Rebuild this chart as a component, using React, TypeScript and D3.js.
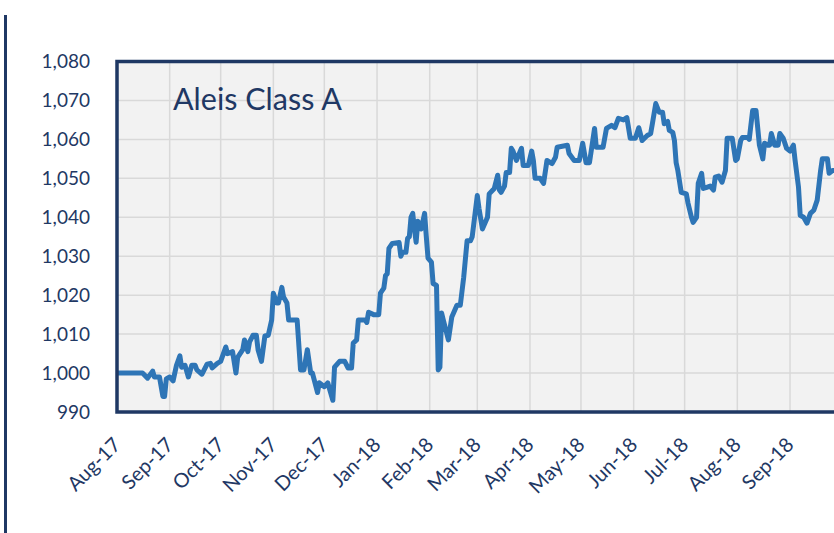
import React, { useEffect, useRef } from "react";
import * as d3 from "d3";

const title = "Aleis Class A";

const dates: string[] = [
  "2017-08-01","2017-08-16","2017-08-19","2017-08-22","2017-08-23","2017-08-26","2017-08-28","2017-08-29","2017-08-30",
  "2017-09-01","2017-09-03","2017-09-05","2017-09-07","2017-09-08","2017-09-10","2017-09-12","2017-09-14","2017-09-16","2017-09-17","2017-09-20","2017-09-23","2017-09-25","2017-09-26","2017-09-29",
  "2017-10-01","2017-10-04","2017-10-05","2017-10-08","2017-10-10","2017-10-11","2017-10-14","2017-10-15","2017-10-17","2017-10-18","2017-10-20","2017-10-22","2017-10-23","2017-10-25","2017-10-27","2017-10-29","2017-10-31",
  "2017-11-01","2017-11-03","2017-11-04","2017-11-06","2017-11-07","2017-11-09","2017-11-10","2017-11-15","2017-11-17","2017-11-19","2017-11-21","2017-11-23","2017-11-24","2017-11-27","2017-11-28",
  "2017-12-01","2017-12-03","2017-12-06","2017-12-07","2017-12-10","2017-12-13","2017-12-15","2017-12-17","2017-12-18","2017-12-20","2017-12-21","2017-12-25","2017-12-26","2017-12-27","2017-12-30",
  "2018-01-02","2018-01-03","2018-01-05","2018-01-06","2018-01-07","2018-01-08","2018-01-10","2018-01-14","2018-01-15","2018-01-16","2018-01-18","2018-01-19","2018-01-20","2018-01-21","2018-01-22","2018-01-23","2018-01-24","2018-01-25","2018-01-27","2018-01-29","2018-01-30","2018-01-31",
  "2018-02-02","2018-02-03","2018-02-05","2018-02-06","2018-02-07","2018-02-08","2018-02-09","2018-02-12","2018-02-14","2018-02-17","2018-02-19","2018-02-21","2018-02-23","2018-02-25","2018-02-26",
  "2018-03-01","2018-03-02","2018-03-04","2018-03-07","2018-03-08","2018-03-11","2018-03-13","2018-03-14","2018-03-15","2018-03-17","2018-03-18","2018-03-20","2018-03-21","2018-03-22","2018-03-24","2018-03-27","2018-03-28","2018-03-31",
  "2018-04-02","2018-04-03","2018-04-04","2018-04-07","2018-04-09","2018-04-11","2018-04-14","2018-04-16","2018-04-17","2018-04-23","2018-04-24","2018-04-27","2018-04-30",
  "2018-05-02","2018-05-04","2018-05-06","2018-05-09","2018-05-10","2018-05-14","2018-05-16","2018-05-19","2018-05-21","2018-05-23","2018-05-26","2018-05-28","2018-05-30",
  "2018-06-02","2018-06-04","2018-06-06","2018-06-09","2018-06-11","2018-06-12","2018-06-14","2018-06-16","2018-06-18","2018-06-19","2018-06-21","2018-06-22","2018-06-24","2018-06-25","2018-06-26","2018-06-27","2018-06-29",
  "2018-07-02","2018-07-03","2018-07-05","2018-07-06","2018-07-08","2018-07-09","2018-07-11","2018-07-12","2018-07-14","2018-07-16","2018-07-18","2018-07-19","2018-07-21","2018-07-23","2018-07-25","2018-07-26","2018-07-29","2018-07-31",
  "2018-08-01","2018-08-03","2018-08-04","2018-08-07","2018-08-08","2018-08-10","2018-08-12","2018-08-14","2018-08-16","2018-08-17","2018-08-19","2018-08-20","2018-08-21","2018-08-23","2018-08-25","2018-08-26","2018-08-28","2018-08-30",
  "2018-09-01","2018-09-03","2018-09-04","2018-09-06","2018-09-07","2018-09-09","2018-09-11","2018-09-13","2018-09-15","2018-09-17","2018-09-19","2018-09-20","2018-09-23","2018-09-24","2018-09-26","2018-09-29"
];

const values: number[] = [
  1000,1000,998.7,1000.5,999,999,994,994,998.5,
  999,998,1002,1004.4,1001.5,1002,999,1002,1002,1000.8,999.7,1002.3,1002.5,1001.3,1002.5,
  1003,1006.7,1005,1005.5,1000,1004,1006,1008.5,1005.5,1008,1009.7,1009.7,1006,1003,1009.5,1009.7,1013.6,
  1020.5,1018,1018,1022,1019.5,1018,1013.6,1013.6,1000.8,1000.8,1006,1000,1000,995,997.5,
  996.5,997.5,993,1001.5,1003,1003,1001.3,1001.3,1007.7,1008.5,1013.6,1013.6,1013,1015.6,1015,
  1015,1020.5,1021.8,1025,1025.5,1032,1033.3,1033.5,1030,1031,1031,1034.6,1035,1040,1041,1037,1033.6,1039,1037,1041,1035,1029.5,
  1028.5,1023,1022.5,1000.8,1001.5,1015.4,1013.6,1008.5,1014.4,1017.4,1017.4,1024.6,1034,1034,1035,
  1045.6,1042.3,1037,1040,1046,1047.4,1050.8,1047,1046.4,1048,1051.5,1051.5,1057.7,1057,1054.6,1057.7,1053.3,1053.3,
  1057,1054.6,1050,1050,1048.7,1054.6,1053.8,1055.4,1058,1058.5,1056.4,1054.6,1054.6,
  1059,1054,1054,1062.8,1058,1058,1062.8,1063.6,1063,1065.4,1065,1065.6,1060.3,
  1060.3,1063,1059.7,1061,1061.5,1064,1069.2,1067,1067,1064,1064.6,1062.3,1061.8,1059.7,1054,1052,1046.4,
  1046,1043.6,1040,1038.7,1040,1048.7,1051.3,1047.4,1047.7,1048,1047,1050.3,1050.6,1049,1052,1060.3,1060.3,1054.6,
  1055,1059.7,1060.5,1060.5,1060,1067.4,1067.4,1058.5,1055,1059,1058.5,1058.5,1061.5,1058.5,1058.5,1061.5,1060.3,1057.7,
  1057,1058.5,1054.6,1047.7,1040.5,1040,1038.5,1041,1041.8,1044.4,1052,1055,1055,1051.3,1052,1052
];

const yTicks: number[] = [990, 1000, 1010, 1020, 1030, 1040, 1050, 1060, 1070, 1080];
const monthTicks: string[] = [
  "2017-08-01","2017-09-01","2017-10-01","2017-11-01","2017-12-01","2018-01-01",
  "2018-02-01","2018-03-01","2018-04-01","2018-05-01","2018-06-01","2018-07-01","2018-08-01","2018-09-01"
];
const xDomain: string[] = ["2017-08-01", "2018-10-01"];

export default function App() {
  const ref = useRef<SVGSVGElement>(null);
  useEffect(() => {
    const svg = d3.select(ref.current);
    svg.selectAll("*").remove();
    const parse = d3.timeParse("%Y-%m-%d");
    const navy = "#1F3864";
    const font = "Lato, 'Open Sans', sans-serif";
    const L = 117, T = 61.5, B = 412, R = 841;

    const x = d3.scaleTime().domain(xDomain.map((d) => parse(d) as Date)).range([L, R]);
    const y = d3.scaleLinear().domain([990, 1080]).range([B, T]);

    // outer left rule
    svg.append("line").attr("x1", 5.5).attr("x2", 5.5).attr("y1", 15).attr("y2", 533)
      .attr("stroke", navy).attr("stroke-width", 3);

    svg.append("rect").attr("x", L).attr("y", T).attr("width", R - L).attr("height", B - T).attr("fill", "#F2F2F2");

    const ticks = monthTicks.map((d) => parse(d) as Date);
    svg.append("g").selectAll("line").data(ticks).join("line")
      .attr("x1", (d) => x(d)).attr("x2", (d) => x(d)).attr("y1", T).attr("y2", B)
      .attr("stroke", "#D9D9D9").attr("stroke-width", 1.5);
    svg.append("g").selectAll("line").data(yTicks).join("line")
      .attr("x1", L).attr("x2", R).attr("y1", (d) => y(d)).attr("y2", (d) => y(d))
      .attr("stroke", "#D9D9D9").attr("stroke-width", 1.5);

    svg.append("defs").append("clipPath").attr("id", "plotclip").append("rect")
      .attr("x", L).attr("y", T).attr("width", R - L).attr("height", B - T);

    const data = dates.map((d, i) => ({ d: parse(d) as Date, v: values[i] }));
    const line = d3.line<{ d: Date; v: number }>().x((p) => x(p.d)).y((p) => y(p.v));
    svg.append("path").datum(data).attr("d", line).attr("fill", "none")
      .attr("stroke", "#2E75B6").attr("stroke-width", 5).attr("stroke-linejoin", "round")
      .attr("stroke-linecap", "round").attr("clip-path", "url(#plotclip)");

    svg.append("path").attr("d", `M${R},${T}H${L}V${B}H${R}`).attr("fill", "none")
      .attr("stroke", navy).attr("stroke-width", 3.5);

    const fmt = d3.format(",");
    svg.append("g").selectAll("text").data(yTicks).join("text")
      .attr("x", 90).attr("y", (d) => y(d)).attr("dy", "0.35em").attr("text-anchor", "end")
      .attr("font-family", font).attr("font-size", 19).attr("fill", navy).text((d) => fmt(d));

    const tf = d3.timeFormat("%b-%y");
    svg.append("g").selectAll("text").data(ticks).join("text")
      .attr("transform", (d) => `translate(${x(d) + 5},${446}) rotate(-45)`)
      .attr("text-anchor", "end").attr("font-family", font).attr("font-size", 20).attr("fill", navy)
      .text((d) => tf(d));

    svg.append("text").attr("x", 173).attr("y", 110).attr("font-family", font).attr("font-size", 30.5)
      .attr("fill", navy).text(title);
  }, []);
  return (
    <svg ref={ref} width={834} height={533}
      style={{ position: "fixed", left: 0, top: 0, background: "#fff", display: "block" }} />
  );
}
